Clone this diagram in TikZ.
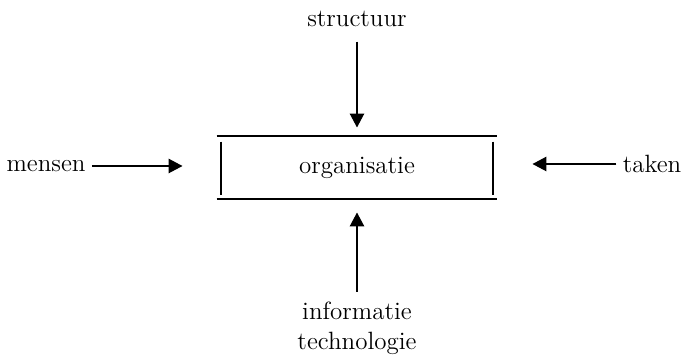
\documentclass[tikz,border=0pt]{standalone}
\usetikzlibrary{arrows.meta}

\tikzset{
  lbl/.style={font=\fontsize{12.5}{16}\selectfont, inner sep=3pt},
  pijl/.style={-{Triangle[length=7pt,width=7pt]}, line width=1.3pt},
  rand/.style={line width=1pt}
}

\begin{document}
\begin{tikzpicture}[x=0.5pt, y=-0.5pt]
    \useasboundingbox (0,0) rectangle (682,357);

    % centrale box
    \node[lbl, minimum width=136pt, minimum height=31.5pt] at (357,167.5) (org) {organisatie};
    \draw[rand] ([xshift=-2pt]org.north west) -- ([xshift=2pt]org.north east);
    \draw[rand] ([xshift=-2pt]org.south west) -- ([xshift=2pt]org.south east);
    \draw[rand] ([yshift=-3pt]org.north west) -- ([yshift=2pt]org.south west);
    \draw[rand] ([yshift=-3pt]org.north east) -- ([yshift=2pt]org.south east);

    % invloeden
    \node[lbl, anchor=base] at (357,27)  (struct)  {structuur};
    \node[lbl] at (46,166)               (mensen)  {mensen};
    \node[lbl] at (652,164)              (taken)   {taken};
    \node[lbl, anchor=north, align=center] at (357,296) (inftech) {informatie\\[-1pt]technologie};

    \draw[pijl, shorten <=4pt, shorten >=4pt] (struct) -- (org);
    \draw[pijl, shorten <=2pt, shorten >=6.5pt] (inftech) -- (org);
    \draw[pijl, shorten >=19pt] (mensen) -- (mensen -| org.west);
    \draw[pijl, shorten >=19.5pt] (taken) -- (taken -| org.east);
  \end{tikzpicture}
\end{document}
